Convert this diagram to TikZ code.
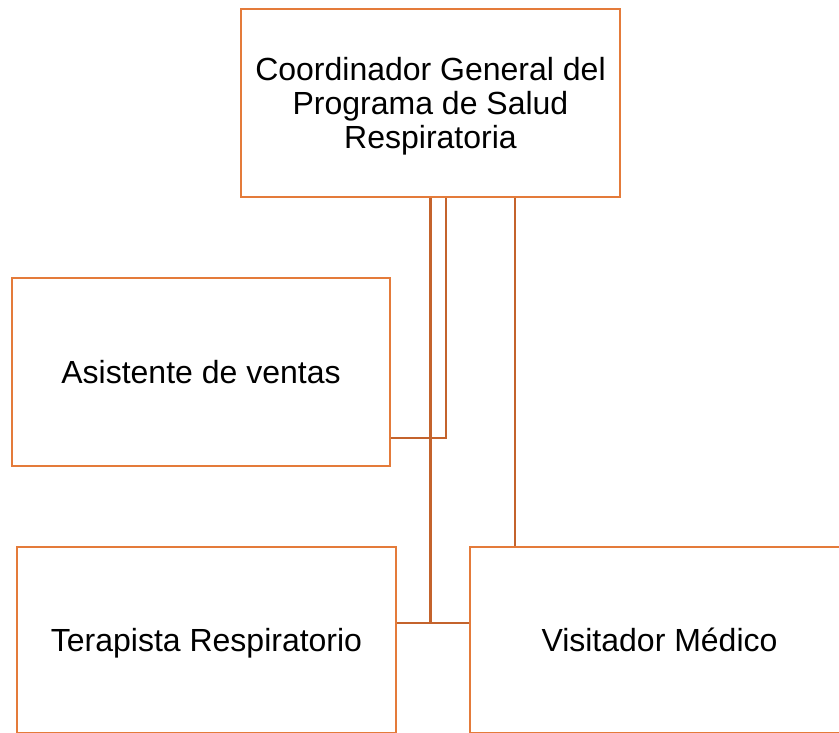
\documentclass[tikz,border=0pt]{standalone}
\usepackage{fontspec}
\setmainfont{Liberation Sans}
\definecolor{boxc}{HTML}{E47B3A}
\definecolor{linec}{HTML}{C4632C}
\begin{document}
\begin{tikzpicture}[x=1pt,y=-1pt,
  orgbox/.style={draw=boxc,line width=2.6pt,rectangle,inner sep=0pt,align=center,
    font=\fontsize{32}{34}\selectfont,text=black},
  oneline/.style={text height=23pt,text depth=0pt},
  conn/.style={draw=linec,line width=2.6pt}]
\useasboundingbox (0,0) rectangle (839,733);
\node[orgbox,minimum width=379pt,minimum height=188pt] (top) at (430.5,103)
  {\raisebox{-5pt}[\height][\depth]{\begin{tabular}{@{}c@{}}Coordinador General del\\Programa de Salud\\Respiratoria\end{tabular}}};
\node[orgbox,oneline,minimum width=378pt,minimum height=188pt] (asis) at (201,372) {Asistente de ventas};
\node[orgbox,oneline,minimum width=379pt,minimum height=186pt] (tera) at (206.5,640) {Terapista Respiratorio};
\node[orgbox,oneline,minimum width=379pt,minimum height=186pt] (visi) at (659.5,640) {Visitador Médico};
\coordinate (c1) at (446,438);
\coordinate (c2) at (430.5,623);
\coordinate (c3) at (515,547);
\draw[conn] (top.south -| c1) -- (c1) -- (asis.east |- c1);
\draw[conn] (top.south -| c2) -- (c2);
\draw[conn] (tera.east |- c2) -- (visi.west |- c2);
\draw[conn] (top.south -| c3) -- (visi.north -| c3);
\end{tikzpicture}
\end{document}
